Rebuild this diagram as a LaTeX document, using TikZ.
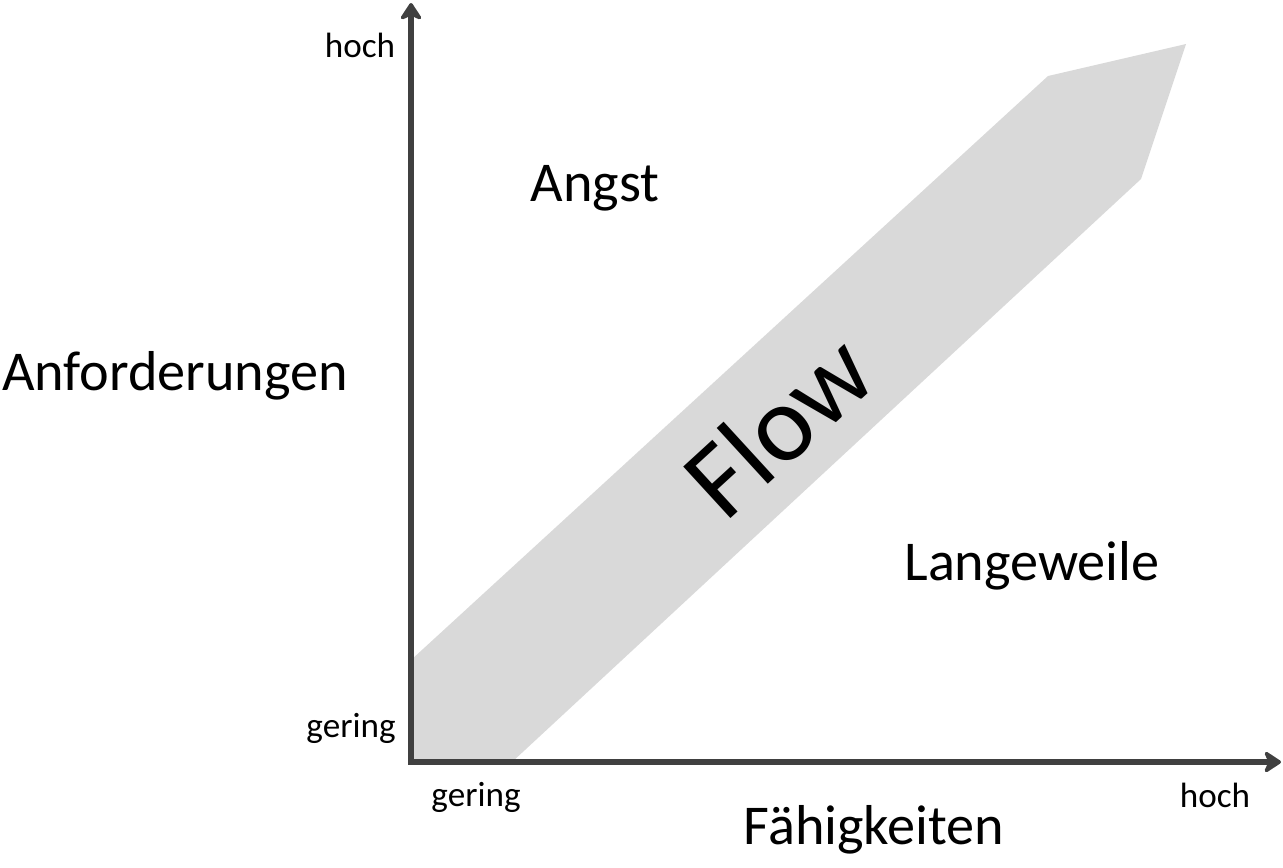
\documentclass[tikz,border=0pt]{standalone}
\usepackage{fontspec}
\setmainfont{Carlito}
\usetikzlibrary{arrows.meta}
\definecolor{axisgray}{HTML}{404040}
\definecolor{bandgray}{HTML}{D9D9D9}
\begin{document}
\begin{tikzpicture}
			[x=0.02cm,y=-0.02cm,
			axis/.style={draw=axisgray,line width=0.12cm,
				{Stealth[round,length=0.4cm,width=0.52cm,inset=0.12cm]}-{Stealth[round,length=0.4cm,width=0.52cm,inset=0.12cm]}},
			small/.style={font=\fontsize{20}{24}\selectfont},
			big/.style={font=\fontsize{32}{38}\selectfont}]
			\useasboundingbox (0,0) rectangle (1283,867);
			% Flow-Band
			\fill[bandgray] (411,660) -- (1048,76) -- (1186,44) -- (1141,179)
			-- (512,762) -- (411,762) -- cycle;
			\coordinate (O) at (411,762);
			\coordinate (Y) at (411,3);
			\coordinate (X) at (1281,762);
			\path[axis] (Y) -- (O) -- (X);
			\node[small] (yhoch) at (360,45) {hoch};
			\node[small] (ygering) at (351,728) {gering};
			\node[small] (xgering) at (476,797) {gering};
			\node[small] (xhoch) at (1215,795) {hoch};
			\node[big] (anf) at (175,376) {Anforderungen};
			\node[big] (faeh) at (874,830) {Fähigkeiten};
			\node[big] (angst) at (595,188) {Angst};
			\node[big] (lang) at (1032,566) {Langeweile};
			\node[font=\fontsize{62}{70}\selectfont,rotate=42.5] (flow) at (778,425) {Flow};
		\end{tikzpicture}
\end{document}
